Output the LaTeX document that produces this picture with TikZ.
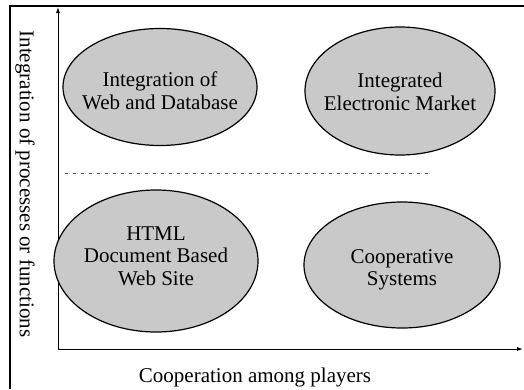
\documentclass[tikz,border=0pt]{standalone}
\usepackage{fontspec}
\setmainfont{Liberation Serif}
\usetikzlibrary{shapes.geometric,arrows.meta}
\begin{document}
\begin{tikzpicture}[x=1pt,y=-1pt,
  bubble/.style={ellipse,draw=black,line width=1.2pt,fill=black!21,inner sep=0pt},
  btext/.style={align=center,inner sep=0pt,font=\fontsize{21}{22.5}\selectfont},
  axis/.style={line width=0.9pt,-{Latex[length=6pt,width=4pt]}},
  lbl/.style={font=\fontsize{21}{24}\selectfont,inner sep=0pt}]
\useasboundingbox (0,0) rectangle (524,389);
% frame
\coordinate (fl) at (10,389);
\coordinate (ft) at (10,6);
\coordinate (fr) at (524,6);
\draw[line width=1.4pt] (fl) -- (ft) -- (fr);
% axes
\coordinate (o) at (58,349);
\coordinate (ytip) at (58,7);
\coordinate (xtip) at (523,349);
\draw[axis] (o) -- (ytip);
\draw[axis] (o) -- (xtip);
% dashed divider
\coordinate (d1) at (65,173);
\coordinate (d2) at (428,173);
\draw[line width=0.7pt,black!70,dash pattern=on 3pt off 5pt] (d1) -- (d2);
% ellipses
\node[bubble,minimum width=194,minimum height=117] (tl) at (160,87) {};
\node[bubble,minimum width=190,minimum height=128] (tr) at (400,91) {};
\node[bubble,minimum width=204,minimum height=142] (bl) at (156,261) {};
\node[bubble,minimum width=196,minimum height=126] (br) at (402,265) {};
\node[btext] (tlt) at ([yshift=-4pt]tl.center) {Integration of\\Web and Database};
\node[btext] (trt) at ([yshift=-1pt]tr.center) {Integrated\\Electronic Market};
\node[btext] (blt) at ([yshift=5pt]bl.center) {HTML\\Document Based\\Web Site};
\node[btext] (brt) at ([yshift=-5pt]br.center) {Cooperative\\Systems};
% axis labels
\node[lbl,anchor=base] (xl) at (255,382) {Cooperation among players};
\node[lbl,rotate=-90] (yl) at (25,184) {Integration of processes or functions};
\end{tikzpicture}
\end{document}
